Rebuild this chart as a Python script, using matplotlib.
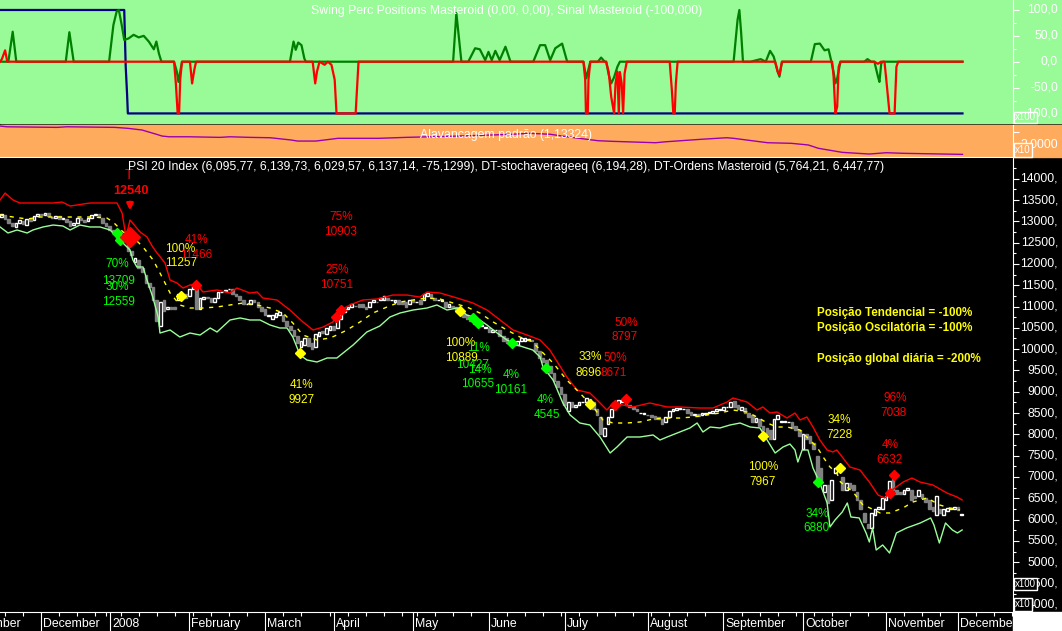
import numpy as np
import pandas as pd
import matplotlib
matplotlib.use("Agg")
import matplotlib.pyplot as plt
import matplotlib.transforms as mtransforms
from matplotlib.patches import Rectangle
from matplotlib.ticker import MultipleLocator, FixedLocator

plt.rcParams['font.family'] = ['Liberation Sans', 'DejaVu Sans']

# ---- trading calendar (day index 0 = 2007-11-16) ----
HOLIDAYS = ["2007-12-25", "2007-12-26", "2008-01-01", "2008-03-21", "2008-03-24", "2008-05-01"]
MONTH_NAMES = ["January", "February", "March", "April", "May", "June", "July",
               "August", "September", "October", "November", "December"]

# ---- PSI 20 daily candles (open / close) ----
opens = [
    13100, 13150, 13050, 12950, 12860, 12950, 13000, 12920, 13050, 13020,
    13120, 13180, 13150, 13200, 13100, 13080, 13120, 13060, 13050, 13000,
    12920, 12950, 13070, 13030, 13000, 13080, 13140, 13170, 13080, 12950,
    12880, 12800, 12750, 12650, 12650, 12500, 12300, 12050, 12100, 11900,
    11750, 11550, 11450, 11150, 10550, 11150, 10950, 11000, 11000, 11150,
    11250, 11300, 11250, 11400, 11450, 10950, 11180, 11220, 11200, 11100,
    11200, 11340, 11360, 11400, 11400, 11300, 11250, 11150, 11050, 11050,
    11150, 11100, 11000, 10950, 10780, 10700, 10750, 10800, 10800, 10650,
    10550, 10450, 10300, 10050, 10100, 10250, 10150, 10050, 10300, 10420,
    10350, 10450, 10550, 10500, 10700, 10880, 10950, 11000, 11020, 11050,
    11050, 11000, 10980, 11100, 11110, 11150, 11150, 11200, 11150, 11100,
    11150, 11100,
    11100, 11050, 11150, 11100, 11150, 11150, 11250,
    11300, 11200, 11150, 11140, 11100, 11000, 11010, 10980, 10900, 10850,
    10800, 10750, 10650, 10560, 10550, 10500, 10500, 10400, 10440, 10450,
    10300, 10250, 10150, 10150, 10100, 10180, 10200, 10220, 10210, 10150,
    9950, 9800, 9750, 9600, 9450, 9250, 9100, 8950, 8550, 8750,
    8650, 8700, 8750, 8750, 8820, 8750, 8600, 8400, 7950, 8250,
    8400, 8600, 8700, 8750, 8800, 8700, 8650, 8600, 8500, 8480,
    8460, 8450, 8420, 8400, 8350, 8300, 8400, 8550, 8580, 8600,
    8590, 8600, 8520, 8450, 8480, 8450, 8480, 8490,
    8500, 8550, 8580,
    8580, 8640, 8650, 8780, 8700, 8580, 8620, 8500, 8450, 8300,
    8350, 8200, 8150, 8100, 7900, 8350, 8300, 8300, 8280, 8300,
    8200, 8100, 7650, 8000, 7950, 7800, 7500, 7200, 6650, 6800,
    6450, 7100, 7150, 7000, 6700, 6850, 6800, 6650, 6450, 6150,
    5900, 5800, 6100, 6250, 6250, 6450, 6550, 6950, 6700, 6650,
    6600, 6700, 6700, 6550, 6550, 6600, 6500, 6450, 6300, 6100,
    6250, 6100, 6200, 6250, 6250, 6300, 6096,
]
closes = [
    13180, 13050, 12950, 12880, 12950, 13020, 12930, 13050, 13000, 13120,
    13180, 13150, 13200, 13120, 13080, 13130, 13060, 13080, 12980, 12900,
    12960, 13080, 13040, 12990, 13070, 13140, 13180, 13100, 12950, 12880,
    12800, 12720, 12620, 12680, 12580, 12300, 12200, 12150, 11900, 11800,
    11550, 11450, 11150, 10650, 11100, 10900, 10980, 10950, 10950, 11300,
    11280, 11200, 11400, 11480, 10950, 11200, 11230, 11210, 11100, 11200,
    11350, 11350, 11390, 11420, 11300, 11250, 11150, 11050, 11060, 11150,
    11100, 11000, 10900, 10800, 10790, 10800, 10850, 10860, 10650, 10550,
    10450, 10300, 10150, 10200, 10250, 10080, 10000, 10350, 10400, 10380,
    10500, 10550, 10450, 10700, 10900, 10950, 11000, 11050, 11010, 11000,
    10980, 10950, 11100, 11150, 11100, 11200, 11250, 11150, 11160, 11150,
    11050, 11050,
    11000, 11150, 11100, 11110, 11050, 11300, 11320,
    11200, 11150, 11160, 11150, 11000, 11050, 11000, 10900, 10850, 10750,
    10700, 10650, 10600, 10550, 10560, 10510, 10400, 10450, 10450, 10300,
    10200, 10150, 10100, 10100, 10200, 10250, 10250, 10240, 10200, 9950,
    9800, 9700, 9550, 9450, 9250, 9100, 8950, 8700, 8750, 8650,
    8700, 8750, 8760, 8850, 8800, 8600, 8450, 8000, 8150, 8400,
    8600, 8750, 8800, 8800, 8700, 8650, 8600, 8550, 8510, 8490,
    8450, 8400, 8370, 8350, 8250, 8400, 8550, 8600, 8620, 8610,
    8600, 8500, 8450, 8480, 8420, 8500, 8490, 8520,
    8550, 8600, 8590,
    8650, 8650, 8750, 8650, 8600, 8650, 8500, 8400, 8300, 8380,
    8200, 8100, 8000, 7900, 8350, 8450, 8310, 8310, 8290, 8150,
    8100, 7950, 8000, 7900, 7800, 7650, 6950, 6900, 6800, 6400,
    6930, 7200, 7160, 6700, 6850, 6750, 6700, 6450, 6250, 5950,
    5800, 6150, 6250, 6300, 6500, 6550, 6900, 6700, 6600, 6600,
    6700, 6750, 6470, 6500, 6700, 6500, 6420, 6250, 6200, 6550,
    6150, 6250, 6280, 6280, 6300, 6220, 6137,
]

# ---- DT-Ordens Masteroid bands: (day, price) ----
upper_band = [
    (-0.4, 13500), (1.0, 13664), (3.2, 13500), (5.1, 13430), (7.9, 13430), (10.7, 13430),
    (14.3, 13430), (16.8, 13453), (19.0, 13359), (20.9, 13383), (24.5, 13430), (27.3, 13430),
    (32.0, 13430), (33.4, 13195), (34.5, 12632), (35.6, 13031), (38.4, 12749), (40.3, 12632),
    (41.9, 12396), (43.1, 12256), (45.3, 12021), (46.7, 11622), (48.6, 11552), (50.3, 11435),
    (52.2, 11505), (54.2, 11505), (55.8, 11341), (59.7, 11388), (63.3, 11317), (65.2, 11435),
    (68.8, 11317), (70.8, 11341), (72.4, 11200), (76.3, 11153), (79.9, 10918), (83.5, 10637),
    (86.3, 10449), (89.1, 10519), (91.8, 10637), (93.2, 10871), (96.5, 11036), (100.1, 11153),
    (104.0, 11176), (108.4, 11270), (112.3, 11270), (115.9, 11223), (117.9, 11341), (121.5, 11317),
    (126.2, 11200), (130.6, 11082), (134.5, 10918), (138.1, 10684), (141.7, 10449), (145.6, 10331),
    (149.2, 10214), (151.9, 9979), (156.6, 9346), (159.4, 9041), (163.0, 8970), (165.8, 8736),
    (167.7, 8571), (169.4, 8736), (174.9, 8642), (179.6, 8736), (184.4, 8642), (187.9, 8642),
    (193.5, 8618), (197.1, 8618), (201.0, 8759), (202.6, 8853), (206.5, 8759), (209.3, 8571),
    (210.9, 8642), (212.9, 8501), (214.8, 8524), (217.6, 8383), (219.8, 8501), (221.2, 8337),
    (223.1, 8407), (224.8, 8172), (226.7, 7867), (228.7, 7633), (230.3, 7586), (231.4, 7633),
    (235.0, 7234), (237.8, 7163), (240.6, 6858), (242.8, 6576), (244.7, 6506), (246.7, 6694),
    (249.8, 6882), (252.2, 6975), (254.4, 6882), (258.0, 6811), (261.9, 6623), (264.7, 6529),
    (266.1, 6459),
]
lower_band = [
    (-0.4, 12867), (1.8, 12726), (4.3, 12796), (7.1, 12726), (8.7, 12796), (11.5, 12867),
    (14.3, 12913), (17.0, 12890), (19.0, 12796), (21.7, 12913), (24.5, 12867), (27.3, 12867),
    (30.1, 12796), (32.8, 12561), (35.6, 12327), (36.4, 12092), (37.5, 11928), (39.2, 11928),
    (40.3, 11622), (41.9, 11223), (43.4, 10754), (43.9, 10378), (46.7, 10449), (49.4, 10285),
    (52.2, 10378), (55.0, 10331), (57.8, 10496), (59.7, 10402), (63.3, 10684), (66.1, 10731),
    (68.8, 10684), (71.6, 10684), (74.4, 10566), (77.1, 10496), (79.1, 10496), (80.7, 10285),
    (82.7, 9862), (84.6, 9745), (87.4, 9698), (90.2, 9792), (92.9, 9792), (97.4, 10097),
    (101.2, 10402), (104.8, 10543), (107.6, 10754), (110.4, 10848), (114.0, 10918), (117.9, 10965),
    (120.6, 11036), (123.4, 10918), (126.2, 10965), (128.9, 10801), (131.7, 10731), (134.5, 10566),
    (137.3, 10378), (140.0, 10214), (142.8, 10097), (147.2, 9979), (149.2, 9815), (150.0, 9581),
    (152.8, 9275), (155.5, 8736), (157.5, 8454), (160.2, 8266), (163.0, 8219), (165.8, 7938),
    (168.6, 7562), (170.5, 7703), (173.3, 7938), (176.9, 7938), (180.5, 7985), (182.4, 7867),
    (184.4, 7938), (187.9, 8055), (190.7, 8149), (192.7, 8266), (194.3, 8055), (196.3, 8172),
    (199.0, 8149), (201.8, 8219), (204.6, 8266), (207.4, 8172), (210.1, 8149), (212.1, 7867),
    (214.3, 7562), (216.5, 7703), (218.4, 7773), (219.8, 7633), (220.6, 7351), (221.8, 7633),
    (223.4, 7633), (224.8, 7210), (226.7, 6858), (228.7, 6389), (229.5, 5825), (230.9, 5990),
    (232.9, 6177), (234.3, 6389), (235.3, 6060), (237.6, 6037), (239.5, 5685), (240.4, 5473),
    (241.3, 5802), (242.3, 5285), (244.1, 5403), (246.0, 5215), (247.9, 5685), (250.7, 5802),
    (254.5, 5919), (257.4, 6037), (258.3, 5872), (259.8, 5450), (261.5, 5919), (263.4, 5755),
    (264.8, 5685), (266.1, 5755),
]
mid_line = [
    (-0.4, 13148), (3.2, 13101), (7.1, 13054), (10.7, 13101), (14.3, 13101), (18.1, 13101),
    (21.7, 13101), (25.3, 13101), (29.2, 13077), (30.9, 12984), (33.7, 12749), (36.4, 12632),
    (39.2, 12396), (42.0, 12092), (43.9, 11787), (46.7, 11317), (49.4, 11036), (52.2, 10965),
    (55.8, 10965), (59.7, 10989), (63.3, 11036), (66.9, 11082), (70.8, 11036), (74.4, 10965),
    (78.0, 10848), (80.7, 10613), (83.5, 10331), (87.4, 10214), (91.0, 10261), (92.9, 10331),
    (95.7, 10449), (99.3, 10637), (102.9, 10848), (106.8, 10989), (110.4, 11106), (114.0, 11153),
    (117.9, 11200), (121.5, 11176), (125.1, 11082), (128.9, 10989), (132.5, 10848), (136.2, 10637),
    (140.0, 10449), (143.6, 10285), (147.2, 10167), (149.2, 9979), (152.8, 9674), (156.6, 9275),
    (160.2, 8970), (163.9, 8642), (166.6, 8337), (169.4, 8266), (173.3, 8266), (176.9, 8290),
    (180.5, 8360), (184.4, 8383), (187.9, 8383), (191.6, 8407), (195.4, 8454), (199.0, 8501),
    (202.6, 8571), (206.5, 8524), (209.3, 8407), (212.1, 8266), (214.8, 8172), (217.6, 8172),
    (221.2, 8102), (223.9, 7867), (225.9, 7703), (227.6, 7468), (229.5, 7234), (231.4, 7093),
    (232.4, 6882), (235.9, 6647), (238.6, 6342), (240.6, 6271), (243.4, 6154), (246.1, 6154),
    (249.7, 6271), (252.5, 6412), (256.4, 6506), (259.9, 6342), (262.7, 6271), (265.5, 6224),
]

# ---- signal diamonds: (day, price, colour) ----
signals = [
    (32.0, 12726, '#00ff00'), (32.8, 12561, '#00ff00'), (49.7, 11247, '#ffff00'),
    (53.9, 11505, '#ff0000'), (82.7, 9909, '#ffff00'), (92.7, 10754, '#ff0000'),
    (94.0, 10918, '#ff0000'), (127.0, 10895, '#ffff00'), (130.6, 10731, '#00ff00'),
    (132.0, 10613, '#00ff00'), (141.4, 10144, '#00ff00'), (150.8, 9557, '#00ff00'),
    (163.0, 8712, '#ffff00'), (169.9, 8689, '#ff0000'), (173.0, 8829, '#ff0000'),
    (210.9, 7961, '#ffff00'), (226.2, 6882, '#00ff00'), (232.3, 7210, '#ffff00'),
    (246.1, 6623, '#ff0000'), (247.2, 7046, '#ff0000'),
]
entry_signal = (35.6, 12632)

# ---- order labels: (day, price, text, colour) ----
order_labels = [
    (32.0, 11998, '70%', '#00ff00'), (32.3, 11599, '13709', '#00ff00'),
    (32.0, 11458, '30%', '#00ff00'), (32.5, 11106, '12559', '#00ff00'),
    (49.6, 12350, '100%', '#ffff00'), (49.7, 12021, '11257', '#ffff00'),
    (53.9, 12561, '41%', '#ff0000'), (53.9, 12209, '11466', '#ff0000'),
    (94.0, 13101, '75%', '#ff0000'), (94.0, 12749, '10903', '#ff0000'),
    (92.9, 11857, '25%', '#ff0000'), (92.7, 11505, '10751', '#ff0000'),
    (83.0, 9158, '41%', '#ffff00'), (83.0, 8806, '9927', '#ffff00'),
    (127.0, 10144, '100%', '#ffff00'), (127.3, 9792, '10889', '#ffff00'),
    (132.0, 10026, '11%', '#00ff00'), (130.6, 9627, '10427', '#00ff00'),
    (132.5, 9510, '14%', '#00ff00'), (132.0, 9182, '10655', '#00ff00'),
    (141.1, 9393, '4%', '#00ff00'), (141.1, 9041, '10161', '#00ff00'),
    (150.6, 8806, '4%', '#00ff00'), (151.1, 8454, '4545', '#00ff00'),
    (163.0, 9815, '33%', '#ffff00'), (162.7, 9440, '8696', '#ffff00'),
    (169.9, 9792, '50%', '#ff0000'), (169.7, 9440, '8671', '#ff0000'),
    (173.0, 10613, '50%', '#ff0000'), (172.7, 10285, '8797', '#ff0000'),
    (210.9, 7234, '100%', '#ffff00'), (210.9, 6882, '7967', '#ffff00'),
    (232.0, 8337, '34%', '#ffff00'), (232.0, 7985, '7228', '#ffff00'),
    (225.9, 6130, '34%', '#00ff00'), (225.9, 5802, '6880', '#00ff00'),
    (247.5, 8853, '96%', '#ff0000'), (247.2, 8501, '7038', '#ff0000'),
    (246.1, 7750, '4%', '#ff0000'), (246.1, 7398, '6632', '#ff0000'),
]
position_lines = ["Posição Tendencial = -100%", "Posição Oscilatória = -100%", "",
                  "Posição global diária = -200%"]

# ---- Swing Perc Positions panel: (day, value) ----
swing_perc = [
    (-0.4, 0), (1.9, 0), (3.1, 58), (4.1, 0), (17.8, 0), (18.8, 57), (20.0, 0), (29.8, 0),
    (31.0, 71), (31.9, 97), (32.5, 100), (33.3, 71), (34.0, 42), (35.2, 45), (36.6, 52),
    (38.0, 47), (39.4, 50), (40.8, 39), (42.2, 24), (42.9, 39), (43.6, 16), (44.3, 0),
    (47.8, 0), (48.6, -20), (49.0, -39), (50.0, 0), (79.9, 0), (80.9, 39), (81.5, 23),
    (82.2, 37), (83.1, 32), (83.9, 6), (84.3, 0), (125.1, 0), (126.0, 94), (127.4, 0),
    (129.3, 0), (131.2, 26), (132.5, 24), (134.0, 3), (134.9, 19), (135.8, 3), (136.8, 21),
    (138.0, 3), (139.6, 29), (141.0, 0), (147.3, 0), (149.2, 32), (150.6, 32), (152.0, 3),
    (153.4, 26), (155.3, 35), (156.7, 0), (161.2, 0), (162.0, -32), (163.1, 0), (165.2, 0),
    (166.1, 8), (167.1, 0), (167.5, 0), (168.2, -25), (168.9, -42), (169.7, -30), (170.6, -10),
    (171.3, 0), (202.8, 0), (203.9, 81), (204.4, 100), (204.9, 55), (205.4, 0), (207.5, 0),
    (210.3, 5), (211.7, 0), (212.9, 21), (213.9, 10), (214.3, 0), (215.0, -19), (215.5, -29),
    (216.2, 0), (224.2, 0), (225.3, 34), (226.7, 35), (228.0, 22), (229.1, 24), (229.9, 0),
    (230.5, -20), (231.0, -42), (231.5, -32), (232.4, 0), (239.0, 0), (239.9, 5), (240.9, 0),
    (241.8, 0), (242.8, -29), (243.2, -39), (243.7, -3), (244.2, 0), (266.2, 0),
]
sinal = [
    (-0.4, 0), (0.1, 5), (1.0, 22), (1.6, 0), (47.8, 0), (48.3, -42), (48.8, -100),
    (49.2, -100), (49.5, -35), (50.0, 0), (52.2, 0), (52.8, -42), (53.4, -16), (53.9, 0),
    (86.2, 0), (86.9, -42), (87.4, -19), (88.1, 0), (89.5, -6), (90.4, 0), (91.4, -6),
    (92.3, -35), (92.8, -100), (98.1, -100), (98.9, 0), (161.2, 0), (161.7, -35),
    (161.9, -100), (162.4, -100), (162.6, -35), (163.1, 0), (167.5, 0), (168.2, -20),
    (168.9, -68), (169.7, -100), (170.1, -42), (170.6, -19), (171.0, -100), (171.3, -20),
    (171.8, -42), (172.2, -100), (172.6, -23), (173.2, 0), (185.1, 0), (185.7, -55),
    (186.1, -100), (186.5, -100), (186.8, -42), (187.3, 0), (214.3, 0), (215.0, -19),
    (215.5, -25), (216.2, 0), (230.1, 0), (230.5, -29), (231.0, -100), (231.5, -87),
    (231.9, -10), (232.4, 0), (241.8, 0), (242.8, -4), (243.6, 0), (244.6, 0), (245.1, -35),
    (246.0, -100), (247.4, -100), (247.9, -10), (248.4, 0), (266.2, 0),
]
trend_pos = [(-0.4, 100), (34.0, 100), (34.4, -8), (34.8, -65), (35.0, -100), (266.2, -100)]

# ---- Alavancagem padrão panel ----
leverage = [
    (-0.4, 3.51), (1.5, 3.45), (15.4, 3.40), (18.1, 3.45), (31.4, 3.40), (35.0, 3.32),
    (38.9, 3.18), (42.7, 2.84), (44.5, 2.67), (46.4, 2.61), (51.9, 2.61), (60.5, 2.56),
    (63.3, 2.61), (68.8, 2.56), (74.4, 2.53), (80.2, 2.34), (82.0, 2.25), (87.1, 2.25),
    (93.2, 2.48), (104.5, 2.48), (112.0, 2.56), (124.2, 2.65), (140.0, 2.80), (146.4, 2.90),
    (152.0, 2.82), (156.7, 2.61), (165.2, 2.28), (168.9, 2.23), (181.2, 2.11), (184.0, 2.19),
    (193.4, 2.39), (200.9, 2.53), (202.8, 2.48), (212.2, 2.11), (218.8, 2.06), (223.5, 1.92),
    (226.3, 1.64), (232.9, 1.30), (240.4, 1.16), (245.1, 1.27), (249.8, 1.22), (266.2, 1.13),
]

TITLE_MAIN = ("PSI 20 Index (6,095,77, 6,139,73, 6,029,57, 6,137,14, -75,1299), "
              "DT-stochaverageeq (6,194,28), DT-Ordens Masteroid (5,764,21, 6,447,77)")
TITLE_SWING = "Swing Perc Positions Masteroid (0,00, 0,00), Sinal Masteroid (-100,000)"
TITLE_LEV = "Alavancagem padrão (1,13324)"

# ---------------------------------------------------------------------------
W, H = 1062, 631
PLOT_R = 1012.5
GREEN_BG = '#98fb98'
ORANGE_BG = '#ffab5e'
FS = 8.8
XLIM = (-0.415, 280.06)


def fbox(x0, y0, x1, y1):
    return [x0 / W, 1 - y1 / H, (x1 - x0) / W, (y1 - y0) / H]


fig = plt.figure(figsize=(W / 100, H / 100), dpi=100, facecolor='black')
for y0, y1, col in [(0, 123, GREEN_BG), (125, 157, ORANGE_BG)]:
    l, b, w, h = fbox(0, y0, W, y1)
    fig.add_artist(Rectangle((l, b), w, h, transform=fig.transFigure, color=col, zorder=-2))

ax_sw = fig.add_axes(fbox(0, 0, PLOT_R, 123), facecolor=GREEN_BG)
ax_lev = fig.add_axes(fbox(0, 125, PLOT_R, 157), facecolor=ORANGE_BG, sharex=ax_sw)
ax = fig.add_axes(fbox(0, 158, PLOT_R, 612), facecolor='black', sharex=ax_sw)

for a in (ax_sw, ax_lev, ax):
    for s in a.spines.values():
        s.set_visible(False)
    a.spines['right'].set_visible(True)
    a.spines['right'].set_color('white')
    a.yaxis.tick_right()
    a.tick_params(axis='y', which='major', direction='out', length=4.3, width=0.8,
                  color='white', labelright=False)
    a.tick_params(axis='y', which='minor', direction='out', length=2.2, width=0.8, color='white')
    a.tick_params(axis='x', which='both', bottom=False, labelbottom=False)
ax_lev.spines['bottom'].set_visible(True)
ax_lev.spines['bottom'].set_color('white')
ax.spines['bottom'].set_visible(True)
ax.spines['bottom'].set_color('white')

# ---- swing panel ----
for series, col in [(trend_pos, '#000080'), (swing_perc, '#008000'), (sinal, '#ff0000')]:
    d, v = zip(*series)
    ax_sw.plot(d, v, color=col, lw=1.6)
ax_sw.set_ylim(-118.5, 119.3)
ax_sw.yaxis.set_major_locator(MultipleLocator(50))
ax_sw.yaxis.set_minor_locator(MultipleLocator(25))
ax_sw.text(0.5, 0.9106, TITLE_SWING, transform=ax_sw.transAxes, ha='center', va='center',
           color='white', fontsize=FS)

# ---- leverage panel ----
d, v = zip(*leverage)
ax_lev.plot(d, v, color='#9a00b0', lw=1)
ax_lev.set_ylim(0.91, 3.60)
ax_lev.yaxis.set_major_locator(FixedLocator([2.0, 3.0]))
ax_lev.text(0.5, 0.6875, TITLE_LEV, transform=ax_lev.transAxes, ha='center', va='center',
            color='white', fontsize=FS)

# ---- price panel ----
o = np.array(opens, dtype=float)
c = np.array(closes, dtype=float)
idx = np.arange(len(o))
up = c >= o
ax.bar(idx[up], (c - o)[up], bottom=o[up], width=0.72, facecolor='black',
       edgecolor='white', linewidth=1.0, zorder=2)
ax.bar(idx[~up], (o - c)[~up], bottom=c[~up], width=0.72, facecolor='#808080',
       edgecolor='#808080', linewidth=1.0, zorder=2)

d, v = zip(*upper_band)
ax.plot(d, v, color='#ff0000', lw=1, zorder=3)
d, v = zip(*lower_band)
ax.plot(d, v, color='#99ff99', lw=1, zorder=3)
d, v = zip(*mid_line)
ax.plot(d, v, color='#ffff00', lw=1, dashes=(3, 4), zorder=3)

for sd, sp, sc in signals:
    ax.plot(sd, sp, marker='D', ms=4.8, color=sc, mec=sc, zorder=4)
ax.plot(*entry_signal, marker='D', ms=10, color='#ff0000', zorder=4)
ax.annotate('', xy=(entry_signal[0], 13190), xytext=(entry_signal[0], 13520),
            arrowprops=dict(arrowstyle='-|>', color='#ff0000', lw=2, mutation_scale=9))
ax.text(35.9, 13711, '12540', color='#ff0000', fontsize=9.2, fontweight='bold',
        ha='center', va='center')
ax.text(35.3, 14087, 'T', color='#ff0000', fontsize=10, ha='center', va='center')

for ld, lp, txt, col in order_labels:
    ax.text(ld, lp, txt, color=col, fontsize=8.5, ha='center', va='center', zorder=5)

for i, line in enumerate(position_lines):
    if line:
        ax.text(816.7 / PLOT_R, (612 - 313 - i * 15.3) / 454, line, transform=ax.transAxes,
                color='#ffff00', fontsize=8.4, fontweight='bold', ha='left', va='center')

ax.text(0.5, 0.980, TITLE_MAIN, transform=ax.transAxes, ha='center', va='center',
        color='white', fontsize=FS)
ax.set_ylim(3830, 14486)
ax.yaxis.set_major_locator(MultipleLocator(500))
ax.yaxis.set_minor_locator(MultipleLocator(250))

# ---- date axis: month separators + weekly ticks ----
cal = pd.bdate_range("2007-11-01", "2008-12-31", freq="C", holidays=HOLIDAYS)
start = cal.get_loc(pd.Timestamp("2007-11-16"))
pos = np.arange(len(cal)) - start
new_month = np.r_[True, cal.month[1:] != cal.month[:-1]]
month_pos = pos[new_month]
month_dates = cal[new_month]
ax.set_xticks(month_pos)
ax.set_xticks(pos[cal.dayofweek == 0], minor=True)
ax.set_xlim(*XLIM)
ax.tick_params(axis='x', which='major', bottom=True, direction='out', length=13.7,
               width=0.8, color='white')
ax.tick_params(axis='x', which='minor', bottom=True, direction='out', length=2.6,
               width=0.8, color='white')
xtr = mtransforms.blended_transform_factory(ax.transData, ax.transAxes)
for p, dt in zip(month_pos, month_dates):
    lab = str(dt.year) if dt.month == 1 else MONTH_NAMES[dt.month - 1]
    ax.text(p + 0.6, -0.0271, lab, transform=xtr, color='white', fontsize=FS,
            ha='left', va='center', clip_on=False)

# ---- right-hand value labels ----
def right_labels(axis, values, fmt):
    tr = mtransforms.blended_transform_factory(fig.transFigure, axis.transData)
    for val in values:
        axis.text(1058 / W, val, fmt(val), transform=tr, ha='right', va='center',
                  color='white', fontsize=FS, clip_on=False)


right_labels(ax_sw, [100, 50, 0, -50, -100], lambda v: f"{v},0")
right_labels(ax_lev, [2.0], lambda v: "2,0000")
right_labels(ax, range(14000, 3999, -500), lambda v: f"{v},")

# scale boxes
for x0, y0, x1, y1, bg, txt in [(1013.6, 111.7, 1037.3, 123, GREEN_BG, 'x100'),
                                (1013.6, 143, 1032.2, 157, ORANGE_BG, 'x10'),
                                (1013.6, 577.7, 1037.3, 590, 'black', 'x100'),
                                (1013.6, 598, 1032.2, 610.5, 'black', 'x10')]:
    l, b, w, h = fbox(x0, y0, x1, y1)
    fig.add_artist(Rectangle((l, b), w, h, transform=fig.transFigure, facecolor=bg,
                             edgecolor='white', lw=1, zorder=3))
    fig.text((x0 + 1.5) / W, 1 - (y0 + y1) / 2 / H, txt, color='white', fontsize=7,
             ha='left', va='center', zorder=4)

l, b, w, h = fbox(PLOT_R, 612, W, H)
fig.add_artist(Rectangle((l, b), w, h, transform=fig.transFigure, color='white', zorder=3))

fig.savefig("out.png", dpi=100, facecolor='black')
